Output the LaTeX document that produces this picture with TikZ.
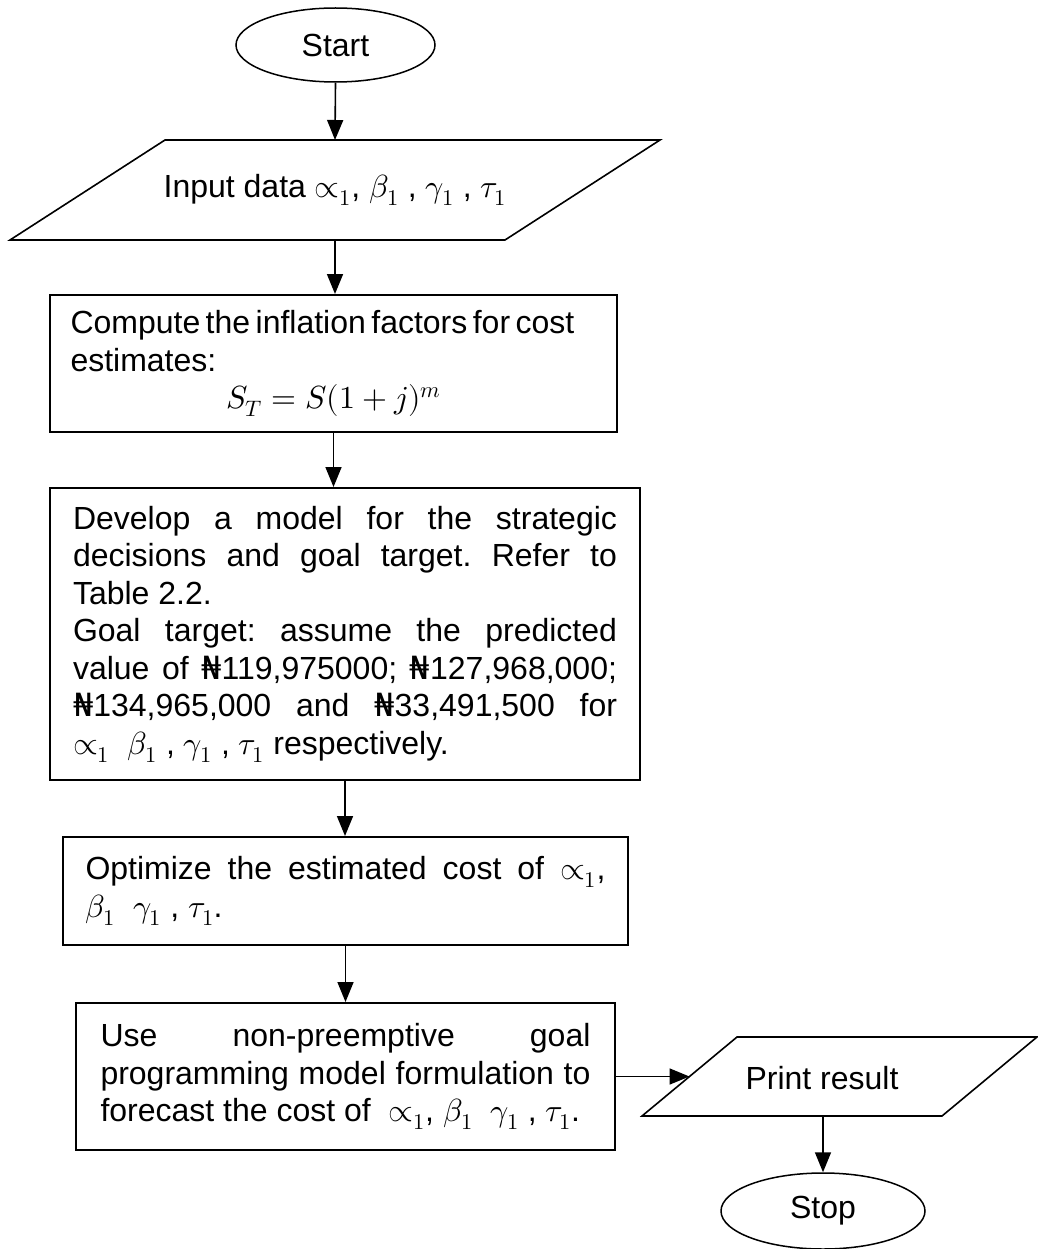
\documentclass[tikz,border=0pt]{standalone}
\usepackage{fontspec}
\usepackage{unicode-math}
\setmainfont{Liberation Sans}
\newfontfamily\nairafont{DejaVu Sans}
\newcommand\nairasign{{\nairafont ₦}}
\usetikzlibrary{arrows.meta,shapes.geometric}
\begin{document}
\begin{tikzpicture}[x=1pt,y=-1pt,
  every node/.style={font=\fontsize{32}{37.5}\selectfont\frenchspacing},
  box/.style={draw,line width=2pt,rectangle,inner xsep=0pt,inner ysep=0pt},
  term/.style={draw,ellipse,line width=1.5pt,inner sep=0pt},
  io/.style={draw,line width=1.6pt,line join=miter},
  arr/.style={line width=1.6pt,-{Triangle[length=20pt,width=16pt]}}]
\useasboundingbox (0,0) rectangle (1037,1249);

% Start
\node[term,minimum width=199pt,minimum height=74pt] (start) at (335.5,45) {Start};

% Input parallelogram
\coordinate (inTL) at (165,140);
\coordinate (inTR) at (660,140);
\coordinate (inBR) at (505,240);
\coordinate (inBL) at (10,240);
\draw[io] (inTL) -- (inTR) -- (inBR) -- (inBL) -- cycle;
\node (input) at (335,190) {Input data $\propto_1$, $\beta_1$ , $\gamma_1$ , $\tau_1$};
\coordinate (inTop) at (335,140);
\coordinate (inBot) at (335,240);

% Compute
\node[box,minimum width=567pt,minimum height=137pt,text width=526pt,align=left] (comp) at (333.5,363.5)
 {\spaceskip=0.17em plus 0.05em minus 0.05em Compute the inflation factors for cost\\estimates:\\\makebox[\linewidth]{$S_T = S(1+j)^m$}};

% Develop
\node[box,minimum width=590pt,minimum height=292pt,text width=544pt,align=justify] (dev) at (345,634)
 {Develop a model for the strategic\linebreak decisions and goal target. Refer to\linebreak Table 2.2.\\
 Goal target: assume the predicted\linebreak value of \nairasign119,975000; \nairasign127,968,000;\linebreak
 \nairasign134,965,000 and \nairasign33,491,500 for\linebreak $\propto_1$\ \ $\beta_1$ , $\gamma_1$ , $\tau_1$ respectively.};

% Optimize
\node[box,minimum width=565pt,minimum height=108pt,text width=520pt,align=justify] (opt) at (345.5,891)
 {Optimize the estimated cost of $\propto_1$,\linebreak $\beta_1$\ \ $\gamma_1$ , $\tau_1$.};

% Use
\node[box,minimum width=539pt,minimum height=147pt,text width=490pt,align=justify] (use) at (345.5,1076.5)
 {Use non-preemptive goal\linebreak programming model formulation to\linebreak forecast the cost of \ $\propto_1$, $\beta_1$\ \ $\gamma_1$ , $\tau_1$.};

% Print result
\coordinate (prTL) at (737,1037);
\coordinate (prTR) at (1037,1037);
\coordinate (prBR) at (942,1116);
\coordinate (prBL) at (642,1116);
\draw[io] (prTL) -- (prTR) -- (prBR) -- (prBL) -- cycle;
\node (print) at (822,1078) {Print result};
\coordinate (prIn) at (689.5,1076.5);
\coordinate (prBot) at (823,1116);

% Stop
\node[term,minimum width=204pt,minimum height=76pt] (stop) at (823,1211) {Stop};

% Connectors
\draw[arr] (start.south) -- (inTop);
\draw[arr] (inBot) -- (inBot |- comp.north);
\draw[arr] (comp.south) -- (comp.south |- dev.north);
\draw[arr] (dev.south) -- (dev.south |- opt.north);
\draw[arr] (opt.south) -- (opt.south |- use.north);
\draw[arr] (use.east) -- (prIn);
\draw[arr] (prBot) -- (stop.north);
\end{tikzpicture}
\end{document}
